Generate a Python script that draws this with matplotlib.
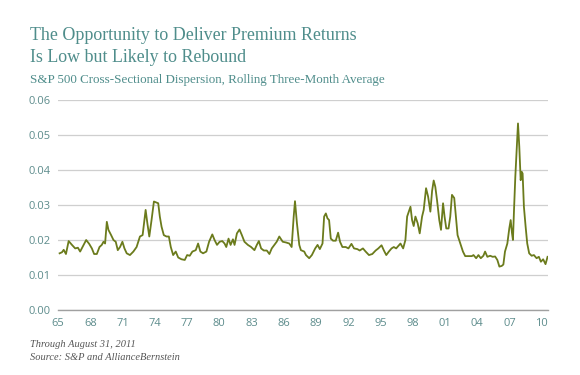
import matplotlib
matplotlib.use("Agg")
import matplotlib.pyplot as plt
import numpy as np

# Data (year, S&P 500 cross-sectional dispersion)
years = [1965.15, 1965.37, 1965.53, 1965.74, 1965.99, 1966.30, 1966.60, 1966.85, 1967.06, 1967.38,
         1967.62, 1967.90, 1968.15, 1968.36, 1968.61, 1968.86, 1969.07, 1969.23, 1969.38, 1969.54,
         1969.69, 1969.94, 1970.16, 1970.37, 1970.56, 1970.77, 1970.99, 1971.18, 1971.39, 1971.69,
         1972.01, 1972.31, 1972.62, 1972.87, 1973.15, 1973.31, 1973.49, 1973.70, 1973.92, 1974.17,
         1974.32, 1974.47, 1974.63, 1974.84, 1975.09, 1975.31, 1975.49, 1975.71, 1975.95, 1976.18,
         1976.48, 1976.79, 1977.01, 1977.25, 1977.50, 1977.81, 1978.03, 1978.24, 1978.49, 1978.80,
         1979.05, 1979.35, 1979.56, 1979.79, 1980.03, 1980.28, 1980.49, 1980.65, 1980.86, 1981.05,
         1981.27, 1981.42, 1981.64, 1981.88, 1982.10, 1982.34, 1982.66, 1982.96, 1983.27, 1983.49,
         1983.68, 1983.89, 1984.14, 1984.42, 1984.66, 1984.88, 1985.12, 1985.34, 1985.58, 1985.90,
         1986.20, 1986.51, 1986.73, 1986.92, 1987.04, 1987.22, 1987.44, 1987.59, 1987.90, 1988.06,
         1988.36, 1988.61, 1988.92, 1989.14, 1989.35, 1989.60, 1989.75, 1989.91, 1990.06, 1990.21,
         1990.37, 1990.58, 1990.83, 1991.05, 1991.23, 1991.45, 1991.76, 1992.01, 1992.29, 1992.53,
         1992.84, 1993.06, 1993.36, 1993.61, 1993.92, 1994.23, 1994.54, 1994.79, 1995.09, 1995.31,
         1995.53, 1995.77, 1996.02, 1996.23, 1996.45, 1996.85, 1997.10, 1997.31, 1997.47, 1997.78,
         1997.93, 1998.08, 1998.24, 1998.45, 1998.64, 1998.86, 1999.01, 1999.23, 1999.42, 1999.63,
         1999.79, 1999.94, 2000.09, 2000.25, 2000.46, 2000.62, 2000.81, 2000.95, 2001.11, 2001.32,
         2001.48, 2001.64, 2001.85, 2002.01, 2002.16, 2002.41, 2002.66, 2002.87, 2003.18, 2003.49,
         2003.64, 2003.89, 2004.10, 2004.32, 2004.56, 2004.72, 2004.93, 2005.19, 2005.43, 2005.65,
         2005.86, 2006.05, 2006.27, 2006.42, 2006.57, 2006.79, 2006.97, 2007.10, 2007.22, 2007.31,
         2007.41, 2007.53, 2007.66, 2007.78, 2007.90, 2008.03, 2008.12, 2008.21, 2008.33, 2008.49,
         2008.64, 2008.82, 2009.05, 2009.26, 2009.51, 2009.72, 2009.91, 2010.12, 2010.34, 2010.53]
dispersion = [0.0162, 0.0165, 0.0172, 0.0160, 0.0197, 0.0186, 0.0176, 0.0178, 0.0167, 0.0186,
              0.0200, 0.0189, 0.0176, 0.0160, 0.0160, 0.0180, 0.0186, 0.0195, 0.0190, 0.0252,
              0.0229, 0.0214, 0.0200, 0.0195, 0.0171, 0.0180, 0.0195, 0.0176, 0.0162, 0.0157,
              0.0167, 0.0180, 0.0210, 0.0214, 0.0286, 0.0248, 0.0210, 0.0257, 0.0310, 0.0307,
              0.0305, 0.0267, 0.0238, 0.0214, 0.0210, 0.0210, 0.0180, 0.0157, 0.0167, 0.0150,
              0.0145, 0.0143, 0.0157, 0.0155, 0.0167, 0.0171, 0.0190, 0.0167, 0.0162, 0.0167,
              0.0195, 0.0216, 0.0200, 0.0186, 0.0195, 0.0197, 0.0190, 0.0180, 0.0204, 0.0186,
              0.0202, 0.0186, 0.0219, 0.0230, 0.0214, 0.0195, 0.0186, 0.0180, 0.0171, 0.0186,
              0.0197, 0.0176, 0.0170, 0.0170, 0.0160, 0.0176, 0.0186, 0.0195, 0.0210, 0.0195,
              0.0193, 0.0190, 0.0180, 0.0267, 0.0311, 0.0248, 0.0186, 0.0171, 0.0167, 0.0157,
              0.0148, 0.0157, 0.0176, 0.0186, 0.0174, 0.0190, 0.0267, 0.0276, 0.0262, 0.0257,
              0.0204, 0.0198, 0.0198, 0.0221, 0.0195, 0.0180, 0.0180, 0.0176, 0.0189, 0.0176,
              0.0174, 0.0170, 0.0176, 0.0167, 0.0157, 0.0160, 0.0170, 0.0176, 0.0185, 0.0170,
              0.0157, 0.0167, 0.0176, 0.0180, 0.0176, 0.0190, 0.0176, 0.0200, 0.0267, 0.0295,
              0.0257, 0.0240, 0.0267, 0.0248, 0.0219, 0.0267, 0.0286, 0.0348, 0.0324, 0.0281,
              0.0340, 0.0370, 0.0352, 0.0314, 0.0257, 0.0229, 0.0305, 0.0267, 0.0233, 0.0233,
              0.0267, 0.0329, 0.0320, 0.0267, 0.0214, 0.0190, 0.0167, 0.0154, 0.0154, 0.0154,
              0.0157, 0.0148, 0.0157, 0.0148, 0.0155, 0.0167, 0.0152, 0.0155, 0.0152, 0.0153,
              0.0143, 0.0124, 0.0126, 0.0130, 0.0167, 0.0190, 0.0233, 0.0257, 0.0220, 0.0200,
              0.0286, 0.0380, 0.0457, 0.0533, 0.0467, 0.0371, 0.0395, 0.0390, 0.0295, 0.0238,
              0.0190, 0.0162, 0.0155, 0.0157, 0.0148, 0.0152, 0.0138, 0.0145, 0.0131, 0.0152]

tick_years = [1965, 1968, 1971, 1974, 1977, 1980, 1983, 1986, 1989, 1992, 1995, 1998, 2001, 2004, 2007, 2010]
tick_labels = ["65", "68", "71", "74", "77", "80", "83", "86", "89", "92", "95", "98", "01", "04", "07", "10"]
y_ticks = [0.00, 0.01, 0.02, 0.03, 0.04, 0.05, 0.06]

title_color = "#4f8d8b"
tick_color = "#5d8c8c"
line_color = "#6b7b1c"

fig = plt.figure(figsize=(5.8, 3.75), dpi=100)
ax = fig.add_axes([0.1, 0.1733, 0.845, 0.56])

ax.plot(years, dispersion, color=line_color, linewidth=1.3, solid_joinstyle="round")

ax.set_xlim(1965.15, 2010.58)
ax.set_ylim(0, 0.06)
ax.set_yticks(y_ticks)
ax.set_yticklabels([f"{v:.2f}" for v in y_ticks])
ax.set_xticks(tick_years)
ax.set_xticklabels(tick_labels)

ax.grid(axis="y", color="#cfcfcf", linewidth=0.9)
ax.set_axisbelow(True)
for s in ["top", "right", "left"]:
    ax.spines[s].set_visible(False)
ax.spines["bottom"].set_color("#a0a0a0")
ax.spines["bottom"].set_linewidth(1.0)
ax.tick_params(axis="both", length=0, labelsize=8, labelcolor=tick_color)
ax.tick_params(axis="x", pad=6)
ax.tick_params(axis="y", pad=5)
for lab in ax.get_xticklabels() + ax.get_yticklabels():
    lab.set_fontfamily("Open Sans")

serif = "Liberation Serif"
fig.text(30 / 580, 1 - 40 / 375, "The Opportunity to Deliver Premium Returns",
         fontsize=12.9, color=title_color, family=serif, va="baseline")
fig.text(30 / 580, 1 - 62 / 375, "Is Low but Likely to Rebound",
         fontsize=12.9, color=title_color, family=serif, va="baseline")
fig.text(30 / 580, 1 - 82.5 / 375, "S&P 500 Cross-Sectional Dispersion, Rolling Three-Month Average",
         fontsize=9.4, color=title_color, family=serif, va="baseline")

fig.text(30 / 580, 1 - 347 / 375, "Through August 31, 2011",
         fontsize=7.5, color="#555555", family=serif, style="italic", va="baseline")
fig.text(30 / 580, 1 - 360 / 375, "Source: S&P and AllianceBernstein",
         fontsize=7.5, color="#555555", family=serif, style="italic", va="baseline")

fig.savefig("out.png", dpi=100, facecolor="white")
